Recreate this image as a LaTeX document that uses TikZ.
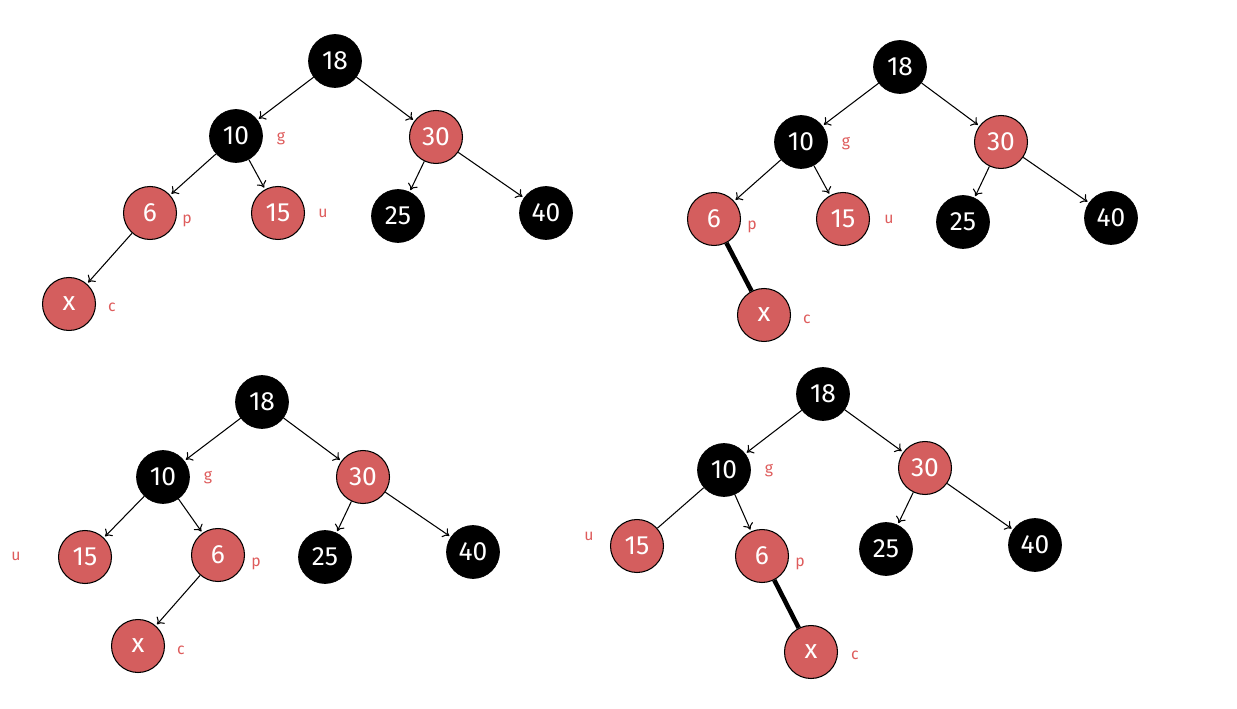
\documentclass[tikz,border=0pt]{standalone}
\usepackage{fontspec}
\setmainfont{Fira Sans}
\usepackage{xcolor}
\usepackage{tikz}
\usetikzlibrary{arrows, arrows.meta, calc}
\definecolor{nodered}{RGB}{212, 94, 94}
\definecolor{tagred}{RGB}{222, 92, 92}

\tikzset{
    rbblack/.style={circle, fill=black, draw=black, text=white, minimum size=1.06cm, inner sep=0pt, font=\fontsize{15}{17}\selectfont},
    rbred/.style={circle, fill=nodered, draw=black, line width=0.6pt, text=white, minimum size=1.06cm, inner sep=0pt, font=\fontsize{15}{17}\selectfont},
    tag/.style={text=tagred, inner sep=0pt, font=\fontsize{9}{10}\selectfont},
    link/.style={-{To[length=3.5pt, width=6pt]}, line width=0.6pt, shorten >=1pt},
    boldlink/.style={line width=2.6pt}
}

\begin{document}
\begin{tikzpicture}[x=0.02cm, y=-0.02cm]
    \useasboundingbox (0,0) rectangle (1237,709);

    % tree 1: before fix
    \node[rbblack] (a18) at (335,61) {18};
    \node[rbblack] (a10) at (236,136) {10};
    \node[rbred]   (a30) at (436,137) {30};
    \node[rbred]   (a6)  at (150,213) {6};
    \node[rbred]   (a15) at (278,213) {15};
    \node[rbblack] (a25) at (398,216) {25};
    \node[rbblack] (a40) at (546,213) {40};
    \node[rbred]   (ax)  at (69,304) {x};
    \node[tag] (ag) at (281,139) {g};
    \node[tag] (au) at (323,213) {u};
    \node[tag] (ap) at (187,221) {p};
    \node[tag] (ac) at (112,307) {c};
    \foreach \from/\to in {a18/a10, a18/a30, a10/a6, a10/a15, a30/a25, a30/a40, a6/ax}
        \draw[link] (\from) -- (\to);

    % tree 2
    \node[rbblack] (b18) at (900,67) {18};
    \node[rbblack] (b10) at (801,142) {10};
    \node[rbred]   (b30) at (1001,142) {30};
    \node[rbred]   (b6)  at (714,219) {6};
    \node[rbred]   (b15) at (843,219) {15};
    \node[rbblack] (b25) at (963,222) {25};
    \node[rbblack] (b40) at (1111,218) {40};
    \node[rbred]   (bx)  at (764,315) {x};
    \node[tag] (bg) at (846,144) {g};
    \node[tag] (bu) at (889,219) {u};
    \node[tag] (bp) at (752,227) {p};
    \node[tag] (bc) at (807,319) {c};
    \foreach \from/\to in {b18/b10, b18/b30, b10/b6, b10/b15, b30/b25, b30/b40}
        \draw[link] (\from) -- (\to);
    \draw[boldlink] (b6) -- (bx);

    % tree 3
    \node[rbblack] (c18) at (262,402) {18};
    \node[rbblack] (c10) at (163,477) {10};
    \node[rbred]   (c30) at (363,477) {30};
    \node[rbred]   (c15) at (85,557) {15};
    \node[rbred]   (c6)  at (218,555) {6};
    \node[rbblack] (c25) at (325,557) {25};
    \node[rbblack] (c40) at (473,552) {40};
    \node[rbred]   (cx)  at (138,646) {x};
    \node[tag] (cg) at (208,478) {g};
    \node[tag] (cu) at (16,556) {u};
    \node[tag] (cp) at (256,564) {p};
    \node[tag] (cc) at (181,650) {c};
    \foreach \from/\to in {c18/c10, c18/c30, c10/c15, c10/c6, c30/c25, c30/c40, c6/cx}
        \draw[link] (\from) -- (\to);

    % tree 4
    \node[rbblack] (d18) at (823,394) {18};
    \node[rbblack] (d10) at (724,470) {10};
    \node[rbred]   (d30) at (925,468) {30};
    \node[rbred]   (d15) at (637,546) {15};
    \node[rbred]   (d6)  at (762,556) {6};
    \node[rbblack] (d25) at (886,549) {25};
    \node[rbblack] (d40) at (1035,545) {40};
    \node[rbred]   (dx)  at (811,652) {x};
    \node[tag] (dg) at (769,471) {g};
    \node[tag] (du) at (589,536) {u};
    \node[tag] (dp) at (800,564) {p};
    \node[tag] (dc) at (855,655) {c};
    \foreach \from/\to in {d18/d10, d18/d30, d10/d6, d30/d25, d30/d40}
        \draw[link] (\from) -- (\to);
    \draw[line width=0.6pt] (d10) -- (d15);
    \draw[boldlink] (d6) -- (dx);
\end{tikzpicture}
\end{document}
